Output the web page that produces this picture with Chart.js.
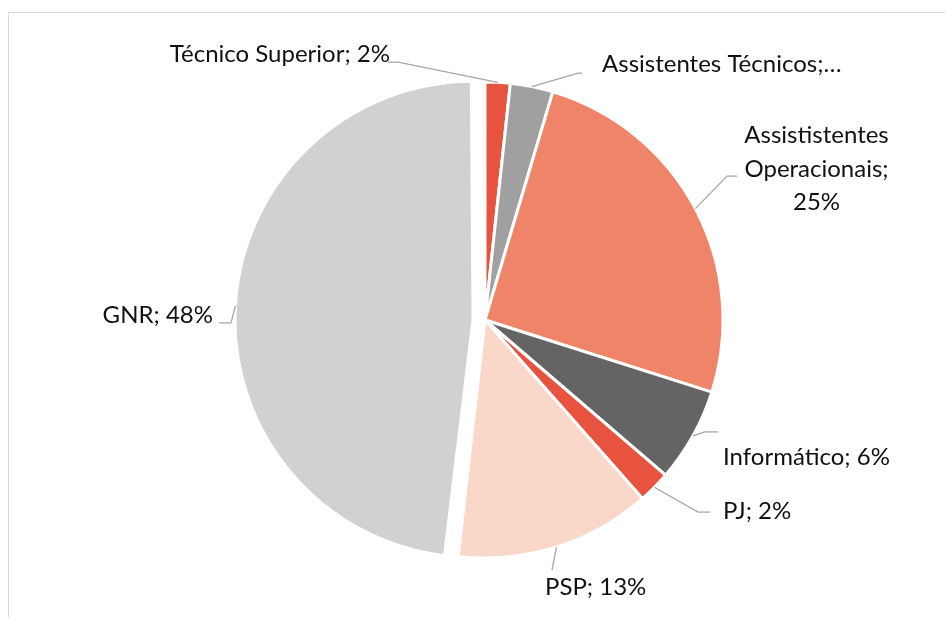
<!DOCTYPE html>
<html>
<head>
<meta charset="utf-8">
<script src="https://cdn.jsdelivr.net/npm/chart.js@4/dist/chart.umd.min.js"></script>
<style>
  html, body { margin: 0; padding: 0; background: #fff; overflow: hidden; }
  #wrap { position: relative; width: 945px; height: 617px; }
  #frame { position: absolute; left: 8px; top: 12px; width: 945px; height: 620px;
           border-top: 1px solid #d9d9d9; border-left: 1px solid #d9d9d9; pointer-events: none; }
  canvas { position: absolute; left: 0; top: 0; }
</style>
</head>
<body>
<div id="wrap">
  <canvas id="chart" width="945" height="617"></canvas>
  <div id="frame"></div>
</div>
<script>
// ---- data ----
const categories = ['Técnico Superior', 'Assistentes Técnicos', 'Assististentes Operacionais', 'Informático', 'PJ', 'PSP', 'GNR'];
const shares = [1.7, 2.9, 25.3, 6.4, 2.2, 13.3, 48.2];
const labelTexts = [
  ['Técnico Superior; 2%'],
  ['Assistentes Técnicos;…'],
  ['Assististentes', 'Operacionais;', '25%'],
  ['Informático; 6%'],
  ['PJ; 2%'],
  ['PSP; 13%'],
  ['GNR; 48%']
];

// ---- styles ----
const sliceColors = ['#E8533F', '#A0A0A0', '#F08468', '#646464', '#E8533F', '#F9D8CA', '#D1D1D1'];
const explode = [0, 0, 0, 0, 0, 0, 48];
const FONT = '24px Lato';
const LINE_H = 33.5;
// leader layout relative to slice's outer mid point: elbow offset, horizontal tail, text offset from tail end
const labelLayout = [
  { elbow: [-99.7, -20.3], tail: -10, text: [2, 0],   align: 'right' },
  { elbow: [46.2, -13.6],  tail: 4,   text: [20, -1], align: 'left' },
  { elbow: [31.7, -32.6],  tail: 10,  text: [79.5, -33], align: 'center' },
  { elbow: [12.2, -4],     tail: 13,  text: [5, 33],  align: 'left' },
  { elbow: [43.7, 24.8],   tail: 12,  text: [13, 7],  align: 'left' },
  { elbow: [-4.4, 23],     tail: 0,   text: [-7, 25], align: 'left' },
  { elbow: [-4.4, 17],     tail: -12, text: [-6, 0],  align: 'right' }
];

// Chart.js shifts an exploded arc by offset/4 and enlarges it by offset/4 * fix
function explodeParts(arc, i) {
  const o = (explode[i] || 0) / 4;
  const circ = arc.endAngle - arc.startAngle;
  const fix = 1 - Math.sin(Math.min(Math.PI, circ));
  return { shift: o, grow: o * fix };
}

const keepRadius = {
  id: 'keepRadius',
  beforeDatasetsDraw(chart) {
    const meta = chart.getDatasetMeta(0);
    const R = meta.controller.outerRadius;
    meta.data.forEach((arc, i) => { arc.outerRadius = R - explodeParts(arc, i).grow; });
  }
};

const leaderLabels = {
  id: 'leaderLabels',
  afterDatasetsDraw(chart) {
    const ctx = chart.ctx;
    const meta = chart.getDatasetMeta(0);
    const R = meta.controller.outerRadius;
    ctx.save();
    meta.data.forEach((arc, i) => {
      const lay = labelLayout[i];
      const mid = (arc.startAngle + arc.endAngle) / 2;
      const d = explodeParts(arc, i).shift + R;
      const sx = arc.x + Math.cos(mid) * d;
      const sy = arc.y + Math.sin(mid) * d;
      const ex = sx + lay.elbow[0], ey = sy + lay.elbow[1];
      const tx = ex + lay.tail;
      ctx.strokeStyle = '#A6A6A6';
      ctx.lineWidth = 1.3;
      ctx.beginPath();
      ctx.moveTo(sx, sy);
      ctx.lineTo(ex, ey);
      if (lay.tail) ctx.lineTo(tx, ey);
      ctx.stroke();
      ctx.fillStyle = '#111111';
      ctx.font = FONT;
      ctx.textAlign = lay.align;
      ctx.textBaseline = 'alphabetic';
      labelTexts[i].forEach((line, k) => {
        ctx.fillText(line, tx + lay.text[0], ey + lay.text[1] + k * LINE_H);
      });
    });
    ctx.restore();
  }
};

new Chart(document.getElementById('chart'), {
  type: 'pie',
  data: {
    labels: categories,
    datasets: [{
      data: shares,
      backgroundColor: sliceColors,
      borderColor: '#FFFFFF',
      borderWidth: 3,
      offset: explode,
      radius: 238
    }]
  },
  options: {
    responsive: false,
    animation: false,
    events: [],
    layout: { padding: { left: 25, top: 23, right: 0, bottom: 0 } },
    plugins: { legend: { display: false }, tooltip: { enabled: false } }
  },
  plugins: [keepRadius, leaderLabels]
});
</script>
</body>
</html>
